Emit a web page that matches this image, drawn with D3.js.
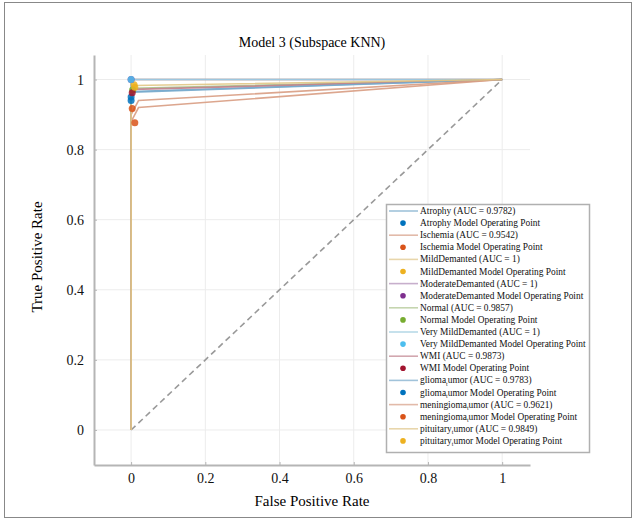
<!DOCTYPE html>
<html>
<head>
<meta charset="utf-8">
<script src="https://cdn.jsdelivr.net/npm/d3@7"></script>
<style>
  body { margin: 0; background: #fff; }
  svg { display: block; }
</style>
</head>
<body>
<div id="chart"></div>
<script>
// Datos
const classNames = ["Atrophy", "Ischemia", "MildDemanted", "ModerateDemanted", "Normal",
  "Very MildDemanted", "WMI", "glioma_tumor", "meningioma_tumor", "pituitary_tumor"];
const aucValues = ["0.9782", "0.9542", "1", "1", "0.9857", "1", "0.9873", "0.9783", "0.9621", "0.9849"];
const classColors = ["#0072BD", "#D95319", "#EDB120", "#7E2F8E", "#77AC30",
  "#4DBEEE", "#A2142F", "#0072BD", "#D95319", "#EDB120"];

// Curvas ROC (FPR, TPR) por clase
const rocFpr = [
  [0, 0, 0.006, 1],
  [0, 0, 0.02, 1],
  [0, 0, 1],
  [0, 0, 1],
  [0, 0, 0.006, 1],
  [0, 0, 1],
  [0, 0, 0.006, 1],
  [0, 0, 0.006, 1],
  [0, 0, 0.02, 1],
  [0, 0, 0.01, 1]
];
const rocTpr = [
  [0, 0.95, 0.966, 1],
  [0, 0.88, 0.92, 1],
  [0, 1, 1],
  [0, 1, 1],
  [0, 0.96, 0.975, 1],
  [0, 1, 1],
  [0, 0.96, 0.972, 1],
  [0, 0.94, 0.964, 1],
  [0, 0.9, 0.94, 1],
  [0, 0.975, 0.983, 1]
];
// Puntos de operación
const opFpr = [0, 0.003, 0.008, 0, 0.004, 0, 0.003, 0, 0.01, 0.01];
const opTpr = [0.95, 0.917, 0.985, 1, 0.97, 1, 0.962, 0.94, 0.877, 0.978];

const xTicks = [0, 0.2, 0.4, 0.6, 0.8, 1];
const yTicks = [0, 0.2, 0.4, 0.6, 0.8, 1];

const FONT = "'Liberation Serif', 'Times New Roman', 'DejaVu Serif', serif";
const width = 634, height = 520;
const margin = { left: 94, right: 104, top: 55, bottom: 55 };

// Las curvas se ven desvaídas: mezcla del color con gris claro
const fade = c => d3.interpolateRgb(c, "#e6e6e6")(0.7);

const svg = d3.select("#chart").append("svg")
  .attr("width", width)
  .attr("height", height)
  .attr("font-family", FONT);

// Marco exterior
svg.append("rect")
  .attr("x", 4.5).attr("y", 2.5)
  .attr("width", width - 7).attr("height", height - 5)
  .attr("fill", "none")
  .attr("stroke", "#888")
  .attr("stroke-width", 1);

const x = d3.scaleLinear().domain([-0.1, 1.075]).range([margin.left, width - margin.right]);
const y = d3.scaleLinear().domain([-0.1, 1.07]).range([height - margin.bottom, margin.top]);

// Rejilla
const grid = svg.append("g").attr("stroke", "#ececec").attr("stroke-width", 1);
grid.selectAll(".gx").data(xTicks).join("line")
  .attr("x1", d => x(d)).attr("x2", d => x(d))
  .attr("y1", y.range()[0]).attr("y2", y.range()[1]);
grid.selectAll(".gy").data(yTicks).join("line")
  .attr("y1", d => y(d)).attr("y2", d => y(d))
  .attr("x1", x.range()[0]).attr("x2", x.range()[1]);

// Ejes
const xAxis = svg.append("g")
  .attr("transform", `translate(0,${y.range()[0]})`)
  .call(d3.axisBottom(x).tickValues(xTicks).tickFormat(d3.format("~g")).tickSizeInner(-3).tickSizeOuter(0).tickPadding(8));
const yAxis = svg.append("g")
  .attr("transform", `translate(${x.range()[0]},0)`)
  .call(d3.axisLeft(y).tickValues(yTicks).tickFormat(d3.format("~g")).tickSizeInner(-3).tickSizeOuter(0).tickPadding(10));
[xAxis, yAxis].forEach(a => {
  a.attr("font-family", FONT).attr("font-size", 14);
  a.select(".domain").attr("stroke", "#b5b5b5").attr("stroke-width", 2);
  a.selectAll(".tick line").attr("stroke", "#b5b5b5");
  a.selectAll(".tick text").attr("fill", "#111");
});

// Línea de referencia
svg.append("line")
  .attr("x1", x(0)).attr("y1", y(0))
  .attr("x2", x(1)).attr("y2", y(1))
  .attr("stroke", "#999")
  .attr("stroke-width", 1.6)
  .attr("stroke-dasharray", "6,4");

// Curvas ROC
const line = d3.line().x(d => x(d[0])).y(d => y(d[1]));
const curves = classNames.map((name, i) => rocFpr[i].map((f, j) => [f, rocTpr[i][j]]));

svg.append("g")
  .selectAll("path")
  .data(curves)
  .join("path")
    .attr("d", line)
    .attr("fill", "none")
    .attr("stroke", (d, i) => d3.interpolateRgb(classColors[i], "#d8d8d8")(0.55))
    .attr("stroke-opacity", 0.9)
    .attr("stroke-width", 1.6);

// Puntos de operación
svg.append("g")
  .selectAll("circle")
  .data(classNames)
  .join("circle")
    .attr("cx", (d, i) => x(opFpr[i]))
    .attr("cy", (d, i) => y(opTpr[i]))
    .attr("r", 3.5)
    .attr("fill", (d, i) => classColors[i])
    .attr("fill-opacity", 0.85);

// Título y etiquetas
svg.append("text")
  .attr("x", 312).attr("y", 47)
  .attr("text-anchor", "middle")
  .attr("font-size", 14)
  .text("Model 3 (Subspace KNN)");

svg.append("text")
  .attr("x", 312).attr("y", 506)
  .attr("text-anchor", "middle")
  .attr("font-size", 15)
  .text("False Positive Rate");

svg.append("text")
  .attr("transform", "translate(42,257) rotate(-90)")
  .attr("text-anchor", "middle")
  .attr("font-size", 15)
  .text("True Positive Rate");

// Leyenda
const legend = svg.append("g").attr("transform", "translate(386,204)");
const rowH = 12.1;
legend.append("rect")
  .attr("x", 0.5).attr("y", 0.5)
  .attr("width", 203).attr("height", 248)
  .attr("fill", "#fff")
  .attr("stroke", "#b0b0b0")
  .attr("stroke-width", 1.5);

const entries = [];
classNames.forEach((name, i) => {
  entries.push({ kind: "line", i, name, suffix: ` (AUC = ${aucValues[i]})` });
  entries.push({ kind: "dot", i, name, suffix: " Model Operating Point" });
});

const rows = legend.selectAll("g.row")
  .data(entries)
  .join("g")
    .attr("class", "row")
    .attr("transform", (d, k) => `translate(0,${7 + k * rowH})`);

rows.filter(d => d.kind === "line").append("line")
  .attr("x1", 3).attr("x2", 32)
  .attr("y1", 0).attr("y2", 0)
  .attr("stroke", d => fade(classColors[d.i]))
  .attr("stroke-width", 1.6);

rows.filter(d => d.kind === "dot").append("circle")
  .attr("cx", 17).attr("cy", 0)
  .attr("r", 2.8)
  .attr("fill", d => classColors[d.i]);

// Texto con subíndice estilo TeX para "_t"
rows.append("text")
  .attr("x", 34)
  .attr("y", 3)
  .attr("font-size", 9.4)
  .attr("fill", "#111")
  .each(function(d) {
    const t = d3.select(this);
    const parts = d.name.split("_");
    if (parts.length === 2) {
      t.append("tspan").text(parts[0]);
      t.append("tspan").attr("dy", 2.5).attr("font-size", 6).text(parts[1][0]);
      t.append("tspan").attr("dy", -2.5).text(parts[1].slice(1) + d.suffix);
    } else {
      t.text(d.name + d.suffix);
    }
  });
</script>
</body>
</html>
